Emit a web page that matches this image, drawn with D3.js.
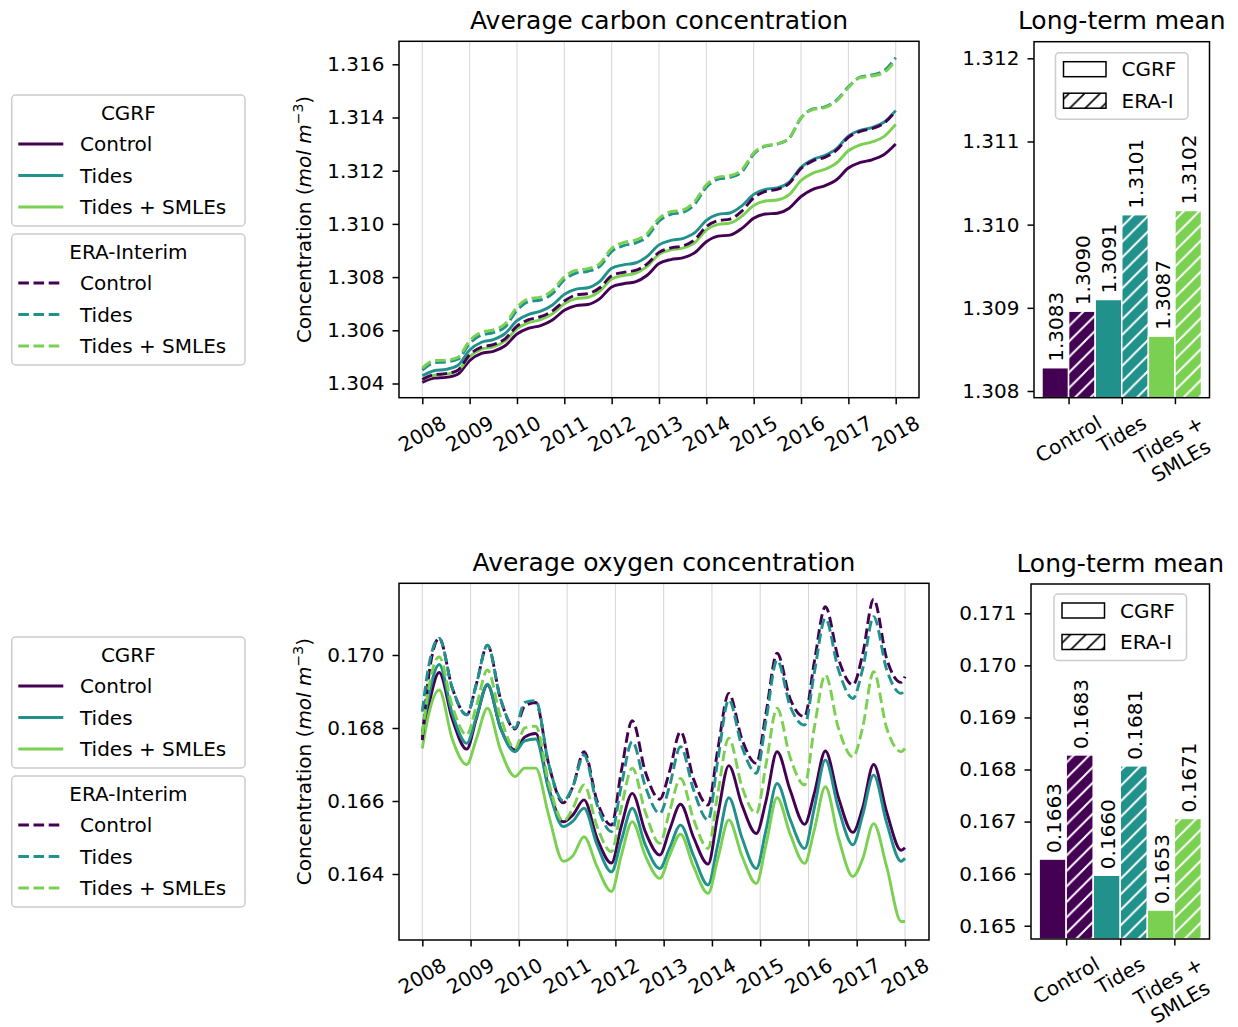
<!DOCTYPE html>
<html>
<head>
<meta charset="utf-8">
<script src="https://cdn.jsdelivr.net/npm/d3@7"></script>
<style>
  body { margin: 0; background: #ffffff; }
  svg text { font-family: "DejaVu Sans", sans-serif; fill: #000; }
</style>
</head>
<body>
<svg id="fig" width="1238" height="1027"></svg>
<script>
// ---------------------------------------------------------------- data
const experiments = ["Control", "Tides", "Tides + SMLEs"];
const barTickLabels = [["Control"], ["Tides"], ["Tides +", "SMLEs"]];
const yearTicks = [2008, 2009, 2010, 2011, 2012, 2013, 2014, 2015, 2016, 2017, 2018];
const yearLabels = ["2008", "2009", "2010", "2011", "2012", "2013", "2014", "2015", "2016", "2017", "2018"];

const carbonTicks = [1.304, 1.306, 1.308, 1.310, 1.312, 1.314, 1.316];
const oxygenTicks = [0.164, 0.166, 0.168, 0.170];
const carbonBarTicks = [1.308, 1.309, 1.310, 1.311, 1.312];
const oxygenBarTicks = [0.165, 0.166, 0.167, 0.168, 0.169, 0.170, 0.171];

// carbon, sampled every quarter
const carbonTime = [2008.00, 2008.25, 2008.50, 2008.75, 2009.00, 2009.25, 2009.50, 2009.75,
  2010.00, 2010.25, 2010.50, 2010.75, 2011.00, 2011.25, 2011.50, 2011.75,
  2012.00, 2012.25, 2012.50, 2012.75, 2013.00, 2013.25, 2013.50, 2013.75,
  2014.00, 2014.25, 2014.50, 2014.75, 2015.00, 2015.25, 2015.50, 2015.75,
  2016.00, 2016.25, 2016.50, 2016.75, 2017.00, 2017.25, 2017.50, 2017.75, 2018.00];

const carbonCgrfControl = [1.30404, 1.30420, 1.30423, 1.30435, 1.30486, 1.30513, 1.30521, 1.30542,
  1.30586, 1.30608, 1.30618, 1.30639, 1.30675, 1.30693, 1.30697, 1.30719,
  1.30763, 1.30775, 1.30782, 1.30807, 1.30851, 1.30866, 1.30872, 1.30891,
  1.30933, 1.30954, 1.30958, 1.30983, 1.31021, 1.31037, 1.31040, 1.31059,
  1.31103, 1.31130, 1.31143, 1.31166, 1.31210, 1.31231, 1.31241, 1.31260, 1.31300];
const carbonCgrfTides = [1.30429, 1.30448, 1.30453, 1.30468, 1.30526, 1.30555, 1.30565, 1.30588,
  1.30636, 1.30660, 1.30672, 1.30695, 1.30735, 1.30755, 1.30760, 1.30784,
  1.30833, 1.30846, 1.30853, 1.30878, 1.30921, 1.30938, 1.30945, 1.30966,
  1.31013, 1.31036, 1.31041, 1.31068, 1.31111, 1.31130, 1.31135, 1.31157,
  1.31213, 1.31242, 1.31257, 1.31283, 1.31330, 1.31352, 1.31362, 1.31382, 1.31426];
const carbonCgrfSmles = [1.30414, 1.30431, 1.30435, 1.30448, 1.30501, 1.30529, 1.30538, 1.30560,
  1.30606, 1.30629, 1.30640, 1.30662, 1.30700, 1.30719, 1.30724, 1.30747,
  1.30793, 1.30806, 1.30814, 1.30840, 1.30886, 1.30902, 1.30909, 1.30929,
  1.30977, 1.30998, 1.31003, 1.31029, 1.31069, 1.31086, 1.31090, 1.31110,
  1.31163, 1.31191, 1.31205, 1.31229, 1.31275, 1.31297, 1.31308, 1.31328, 1.31374];
const carbonEraControl = [1.30415, 1.30433, 1.30437, 1.30450, 1.30508, 1.30537, 1.30546, 1.30568,
  1.30616, 1.30640, 1.30651, 1.30673, 1.30710, 1.30733, 1.30738, 1.30760,
  1.30805, 1.30818, 1.30825, 1.30850, 1.30893, 1.30910, 1.30917, 1.30940,
  1.30990, 1.31012, 1.31018, 1.31048, 1.31098, 1.31122, 1.31130, 1.31152,
  1.31208, 1.31237, 1.31250, 1.31277, 1.31325, 1.31348, 1.31358, 1.31378, 1.31424];
const carbonEraTides = [1.30450, 1.30478, 1.30481, 1.30491, 1.30550, 1.30582, 1.30591, 1.30613,
  1.30675, 1.30708, 1.30714, 1.30738, 1.30790, 1.30815, 1.30822, 1.30840,
  1.30896, 1.30918, 1.30928, 1.30952, 1.31010, 1.31036, 1.31043, 1.31073,
  1.31138, 1.31168, 1.31175, 1.31196, 1.31262, 1.31292, 1.31300, 1.31322,
  1.31398, 1.31432, 1.31440, 1.31465, 1.31515, 1.31552, 1.31560, 1.31575, 1.31625];
const carbonEraSmles = [1.30458, 1.30486, 1.30488, 1.30498, 1.30561, 1.30593, 1.30602, 1.30624,
  1.30687, 1.30719, 1.30725, 1.30750, 1.30801, 1.30826, 1.30832, 1.30851,
  1.30908, 1.30930, 1.30939, 1.30964, 1.31021, 1.31046, 1.31052, 1.31084,
  1.31147, 1.31176, 1.31181, 1.31204, 1.31267, 1.31294, 1.31301, 1.31323,
  1.31399, 1.31430, 1.31437, 1.31462, 1.31512, 1.31550, 1.31556, 1.31569, 1.31615];

// oxygen, sampled around the seasonal cycle (rise, spring peak, decline, winter trough)
const oxygenTime = [2008.00,
  2008.12, 2008.35, 2008.62, 2008.92, 2009.12, 2009.35, 2009.62, 2009.92,
  2010.12, 2010.35, 2010.62, 2010.92, 2011.12, 2011.35, 2011.62, 2011.92,
  2012.12, 2012.35, 2012.62, 2012.92, 2013.12, 2013.35, 2013.62, 2013.92,
  2014.12, 2014.35, 2014.62, 2014.92, 2015.12, 2015.35, 2015.62, 2015.92,
  2016.12, 2016.35, 2016.62, 2016.92, 2017.12, 2017.35, 2017.62, 2017.92,
  2018.00];

const oxygenCgrfControl = [0.16776,
  0.16854, 0.16952, 0.16825, 0.16742, 0.16826, 0.16918, 0.16800, 0.16740,
  0.16775, 0.16785, 0.16635, 0.16543, 0.16562, 0.16603, 0.16498, 0.16430,
  0.16530, 0.16621, 0.16516, 0.16452, 0.16520, 0.16591, 0.16500, 0.16427,
  0.16560, 0.16697, 0.16590, 0.16511, 0.16600, 0.16735, 0.16630, 0.16536,
  0.16620, 0.16737, 0.16610, 0.16514, 0.16580, 0.16700, 0.16570, 0.16465,
  0.16472];
const oxygenCgrfTides = [0.16790,
  0.16880, 0.16974, 0.16840, 0.16758, 0.16830, 0.16920, 0.16800, 0.16735,
  0.16765, 0.16770, 0.16630, 0.16530, 0.16545, 0.16580, 0.16480, 0.16406,
  0.16490, 0.16580, 0.16480, 0.16415, 0.16470, 0.16534, 0.16450, 0.16370,
  0.16480, 0.16609, 0.16500, 0.16415, 0.16520, 0.16648, 0.16550, 0.16470,
  0.16580, 0.16712, 0.16580, 0.16480, 0.16560, 0.16671, 0.16540, 0.16435,
  0.16443];
const oxygenCgrfSmles = [0.16744,
  0.16830, 0.16904, 0.16770, 0.16700, 0.16770, 0.16854, 0.16740, 0.16667,
  0.16690, 0.16690, 0.16560, 0.16435, 0.16450, 0.16502, 0.16420, 0.16352,
  0.16450, 0.16543, 0.16450, 0.16388, 0.16450, 0.16509, 0.16420, 0.16347,
  0.16440, 0.16548, 0.16450, 0.16374, 0.16480, 0.16609, 0.16510, 0.16429,
  0.16520, 0.16639, 0.16500, 0.16393, 0.16440, 0.16538, 0.16420, 0.16270,
  0.16270];
const oxygenEraControl = [0.16767,
  0.16930, 0.17046, 0.16910, 0.16836, 0.16920, 0.17027, 0.16880, 0.16797,
  0.16860, 0.16870, 0.16700, 0.16595, 0.16640, 0.16735, 0.16600, 0.16534,
  0.16680, 0.16820, 0.16680, 0.16605, 0.16680, 0.16790, 0.16660, 0.16589,
  0.16740, 0.16895, 0.16770, 0.16703, 0.16840, 0.17005, 0.16880, 0.16831,
  0.16980, 0.17132, 0.16990, 0.16918, 0.17000, 0.17153, 0.16990, 0.16925,
  0.16941];
const oxygenEraTides = [0.16845,
  0.16960, 0.17046, 0.16910, 0.16836, 0.16920, 0.17027, 0.16880, 0.16800,
  0.16870, 0.16875, 0.16700, 0.16600, 0.16640, 0.16726, 0.16590, 0.16516,
  0.16640, 0.16763, 0.16640, 0.16566, 0.16640, 0.16749, 0.16630, 0.16548,
  0.16710, 0.16877, 0.16750, 0.16676, 0.16820, 0.16986, 0.16860, 0.16808,
  0.16950, 0.17100, 0.16960, 0.16881, 0.16960, 0.17105, 0.16960, 0.16895,
  0.16904];
const oxygenEraSmles = [0.16781,
  0.16900, 0.16995, 0.16860, 0.16781, 0.16860, 0.16959, 0.16830, 0.16744,
  0.16800, 0.16805, 0.16650, 0.16545, 0.16580, 0.16644, 0.16530, 0.16461,
  0.16580, 0.16690, 0.16570, 0.16484, 0.16570, 0.16662, 0.16550, 0.16470,
  0.16620, 0.16772, 0.16640, 0.16566, 0.16700, 0.16854, 0.16720, 0.16644,
  0.16800, 0.16945, 0.16800, 0.16721, 0.16800, 0.16954, 0.16800, 0.16735,
  0.16744];

// long-term means per experiment
const carbonMeanCgrf = [1.30828, 1.30910, 1.30866];
const carbonMeanEra = [1.30896, 1.31012, 1.31017];
const oxygenMeanCgrf = [0.16628, 0.16597, 0.16530];
const oxygenMeanEra = [0.16828, 0.16807, 0.16706];

// ---------------------------------------------------------------- styling
const COLORS = ["#440154", "#21918c", "#7ad151"];
const FONT = 20;
const TITLE_FONT = 25;
const LINE_W = 2.9;
const DASH = "10.6,4.6";
const FRAME_W = 1.5;
const TICK_LEN = 6.5;
const TICK_PAD = 6.7;

const svg = d3.select("#fig");
const defs = svg.append("defs");

// diagonal hatch fills: white on the bars, black in the legend swatches
function hatchPattern(id, color, width, s) {
  const p = defs.append("pattern").attr("id", id)
    .attr("patternUnits", "userSpaceOnUse").attr("width", s).attr("height", s);
  p.append("path")
    .attr("d", `M0,${s} L${s},0 M${-s / 2},${s / 2} L${s / 2},${-s / 2} M${s / 2},${s * 1.5} L${s * 1.5},${s / 2}`)
    .attr("stroke", color).attr("stroke-width", width).attr("fill", "none");
}
hatchPattern("hatchWhite", "#ffffff", 1.9, 15.5);
hatchPattern("hatchBlack", "#000000", 1.6, 15.5);

// ---------------------------------------------------------------- helpers
function frameRect(g, f) {
  g.append("rect").attr("x", f.left).attr("y", f.top)
    .attr("width", f.right - f.left).attr("height", f.bottom - f.top)
    .attr("fill", "none").attr("stroke", "#000").attr("stroke-width", FRAME_W);
}

function styleAxis(ax) {
  ax.select(".domain").remove();
  ax.selectAll(".tick line").attr("stroke", "#000").attr("stroke-width", FRAME_W);
  ax.selectAll(".tick text").attr("font-size", FONT).attr("fill", "#000")
    .attr("font-family", "DejaVu Sans");
}

function yAxis(g, f, y, ticks, fmt) {
  const ax = g.append("g").attr("transform", `translate(${f.left},0)`)
    .call(d3.axisLeft(y).tickValues(ticks).tickFormat(d3.format(fmt))
      .tickSize(TICK_LEN).tickPadding(8));
  styleAxis(ax);
}

// rotated (30°) tick labels, centred under the tick like a rotated bounding box
function rotatedLabel(g, cx, top, lines) {
  const t = g.append("text").attr("font-size", FONT).attr("text-anchor", "middle");
  const gap = FONT * 1.2;
  lines.forEach((ln, i) => {
    t.append("tspan").attr("x", 0).attr("y", (i - (lines.length - 1) / 2) * gap)
      .attr("dominant-baseline", "central").text(ln);
  });
  let w = 0;
  t.selectAll("tspan").each(function () { w = Math.max(w, this.getComputedTextLength()); });
  const h = FONT * 1.164 + (lines.length - 1) * gap;
  const H = w * Math.sin(Math.PI / 6) + h * Math.cos(Math.PI / 6);
  t.attr("transform", `translate(${cx},${top + H / 2}) rotate(-30)`);
}

function yLabel(g, f) {
  const cy = (f.top + f.bottom) / 2;
  const t = g.append("text").attr("transform", `translate(311,${cy}) rotate(-90)`)
    .attr("text-anchor", "middle").attr("font-size", FONT);
  t.append("tspan").text("Concentration (");
  t.append("tspan").attr("font-style", "italic").text("mol m");
  t.append("tspan").attr("font-size", 14).attr("dy", -8).text("\u22123");
  t.append("tspan").attr("dy", 8).text(")");
}

function title(g, f, text) {
  g.append("text").attr("x", (f.left + f.right) / 2).attr("y", f.top - 12.3)
    .attr("text-anchor", "middle").attr("font-size", TITLE_FONT).text(text);
}

// ---------------------------------------------------------------- time-series panel
function linePanel(f, time, series, ticks, fmt, titleText, clipId) {
  const g = svg.append("g");
  const x = d3.scaleLinear().domain([2008, 2018]).range([f.x2008, f.x2018]);
  const y = d3.scaleLinear().domain([f.yLo, f.yHi]).range([f.yLoPx, f.yHiPx]);

  // vertical year grid
  g.append("g").selectAll("line").data(yearTicks).join("line")
    .attr("x1", d => x(d)).attr("x2", d => x(d))
    .attr("y1", f.top).attr("y2", f.bottom)
    .attr("stroke", "#d6d6d6").attr("stroke-width", 1);

  defs.append("clipPath").attr("id", clipId).append("rect")
    .attr("x", f.left).attr("y", f.top)
    .attr("width", f.right - f.left).attr("height", f.bottom - f.top);

  const line = d3.line().x(d => x(d[0])).y(d => y(d[1])).curve(d3.curveMonotoneX);
  const lg = g.append("g").attr("clip-path", `url(#${clipId})`);
  series.forEach(s => {
    lg.append("path")
      .datum(time.map((t, i) => [t, s.values[i]]))
      .attr("d", line).attr("fill", "none")
      .attr("stroke", COLORS[s.exp]).attr("stroke-width", LINE_W)
      .attr("stroke-linejoin", "round")
      .attr("stroke-dasharray", s.dashed ? DASH : null);
  });

  frameRect(g, f);
  yAxis(g, f, y, ticks, fmt);

  const xa = g.append("g").attr("transform", `translate(0,${f.bottom})`)
    .call(d3.axisBottom(x).tickValues(yearTicks).tickFormat("").tickSize(TICK_LEN));
  styleAxis(xa);
  yearTicks.forEach((yr, i) => rotatedLabel(g, x(yr), f.bottom + TICK_LEN + TICK_PAD, [yearLabels[i]]));

  yLabel(g, f);
  title(g, f, titleText);
}

// ---------------------------------------------------------------- long-term mean panel
function barPanel(f, cgrf, era, ticks, fmt, legendTop) {
  const g = svg.append("g");
  const x = d3.scaleLinear().domain([-0.65, 2.65]).range([f.left, f.right]);
  const y = d3.scaleLinear().domain([f.yLo, f.yHi]).range([f.yLoPx, f.yHiPx]);
  const w = 0.5;

  const bars = [];
  experiments.forEach((e, i) => {
    bars.push({ i, x0: i - w, v: cgrf[i], hatch: false });
    bars.push({ i, x0: i, v: era[i], hatch: true });
  });

  const bg = g.append("g");
  bars.forEach(b => {
    const rx = x(b.x0), rw = x(b.x0 + w) - x(b.x0);
    const ry = y(b.v), rh = f.bottom - y(b.v);
    bg.append("rect").attr("x", rx).attr("y", ry).attr("width", rw).attr("height", rh)
      .attr("fill", COLORS[b.i]);
    if (b.hatch) {
      bg.append("rect").attr("x", rx).attr("y", ry).attr("width", rw).attr("height", rh)
        .attr("fill", "url(#hatchWhite)");
    }
    bg.append("rect").attr("x", rx).attr("y", ry).attr("width", rw).attr("height", rh)
      .attr("fill", "none").attr("stroke", "#ffffff").attr("stroke-width", 1.5);
    // value label above the bar
    const cx = x(b.x0 + w / 2);
    g.append("text").attr("transform", `translate(${cx + 1},${ry - 6}) rotate(-90)`)
      .attr("text-anchor", "start").attr("dominant-baseline", "central")
      .attr("font-size", FONT).text(d3.format(".4f")(b.v));
  });

  frameRect(g, f);
  yAxis(g, f, y, ticks, fmt);

  const xa = g.append("g").attr("transform", `translate(0,${f.bottom})`)
    .call(d3.axisBottom(x).tickValues([0, 1, 2]).tickFormat("").tickSize(TICK_LEN));
  styleAxis(xa);
  barTickLabels.forEach((lines, i) => rotatedLabel(g, x(i), f.bottom + TICK_LEN + TICK_PAD, lines));

  title(g, f, "Long-term mean");

  // CGRF / ERA-I legend
  const lw = 132.5, lh = 66.5;
  const lx = (f.left + f.right) / 2 - lw / 2, ly = legendTop;
  g.append("rect").attr("x", lx).attr("y", ly).attr("width", lw).attr("height", lh)
    .attr("rx", 4).attr("fill", "#ffffff").attr("fill-opacity", 0.85)
    .attr("stroke", "#cccccc").attr("stroke-width", 1.5);
  [["CGRF", false], ["ERA-I", true]].forEach(([label, hatch], k) => {
    const cy = ly + 16.5 + k * 31.5;
    g.append("rect").attr("x", lx + 8).attr("y", cy - 7.5).attr("width", 42.5).attr("height", 15)
      .attr("fill", hatch ? "url(#hatchBlack)" : "#ffffff")
      .attr("stroke", "#000").attr("stroke-width", 1.5);
    g.append("text").attr("x", lx + 66).attr("y", cy).attr("dominant-baseline", "central")
      .attr("font-size", FONT).text(label);
  });
}

// ---------------------------------------------------------------- experiment legends (left column)
function seriesLegend(top, heading, dashed) {
  const g = svg.append("g");
  const bx = 11.7, bw = 233.3, bh = 131;
  g.append("rect").attr("x", bx).attr("y", top).attr("width", bw).attr("height", bh)
    .attr("rx", 4).attr("fill", "#ffffff").attr("stroke", "#cccccc").attr("stroke-width", 1.5);
  g.append("text").attr("x", bx + bw / 2).attr("y", top + 18).attr("text-anchor", "middle")
    .attr("dominant-baseline", "central").attr("font-size", FONT).text(heading);
  experiments.forEach((e, i) => {
    const cy = top + 49 + i * 31.5;
    g.append("line").attr("x1", 18.3).attr("x2", 63.3).attr("y1", cy).attr("y2", cy)
      .attr("stroke", COLORS[i]).attr("stroke-width", LINE_W)
      .attr("stroke-dasharray", dashed ? DASH : null);
    g.append("text").attr("x", 80).attr("y", cy).attr("dominant-baseline", "central")
      .attr("font-size", FONT).text(e);
  });
}

// ---------------------------------------------------------------- layout
const carbonFrame = { left: 399, right: 919, top: 41.3, bottom: 397.7,
  x2008: 422.3, x2018: 895.7, yLo: 1.304, yLoPx: 383.5, yHi: 1.316, yHiPx: 64.3 };
const oxygenFrame = { left: 399, right: 929, top: 583.3, bottom: 940,
  x2008: 422.3, x2018: 905, yLo: 0.164, yLoPx: 874, yHi: 0.170, yHiPx: 655 };
const carbonBarFrame = { left: 1034, right: 1209.5, top: 41.7, bottom: 397.7,
  yLo: 1.308, yLoPx: 391, yHi: 1.312, yHiPx: 58.3 };
const oxygenBarFrame = { left: 1031, right: 1209.5, top: 584, bottom: 939,
  yLo: 0.165, yLoPx: 925.7, yHi: 0.171, yHiPx: 613.3 };

linePanel(carbonFrame, carbonTime, [
  { exp: 0, dashed: false, values: carbonCgrfControl },
  { exp: 1, dashed: false, values: carbonCgrfTides },
  { exp: 2, dashed: false, values: carbonCgrfSmles },
  { exp: 0, dashed: true, values: carbonEraControl },
  { exp: 1, dashed: true, values: carbonEraTides },
  { exp: 2, dashed: true, values: carbonEraSmles }
], carbonTicks, ".3f", "Average carbon concentration", "clipCarbon");

linePanel(oxygenFrame, oxygenTime, [
  { exp: 0, dashed: false, values: oxygenCgrfControl },
  { exp: 1, dashed: false, values: oxygenCgrfTides },
  { exp: 2, dashed: false, values: oxygenCgrfSmles },
  { exp: 0, dashed: true, values: oxygenEraControl },
  { exp: 1, dashed: true, values: oxygenEraTides },
  { exp: 2, dashed: true, values: oxygenEraSmles }
], oxygenTicks, ".3f", "Average oxygen concentration", "clipOxygen");

barPanel(carbonBarFrame, carbonMeanCgrf, carbonMeanEra, carbonBarTicks, ".3f", 52.7);
barPanel(oxygenBarFrame, oxygenMeanCgrf, oxygenMeanEra, oxygenBarTicks, ".3f", 594);

seriesLegend(95, "CGRF", false);
seriesLegend(234, "ERA-Interim", true);
seriesLegend(637, "CGRF", false);
seriesLegend(776, "ERA-Interim", true);
</script>
</body>
</html>
